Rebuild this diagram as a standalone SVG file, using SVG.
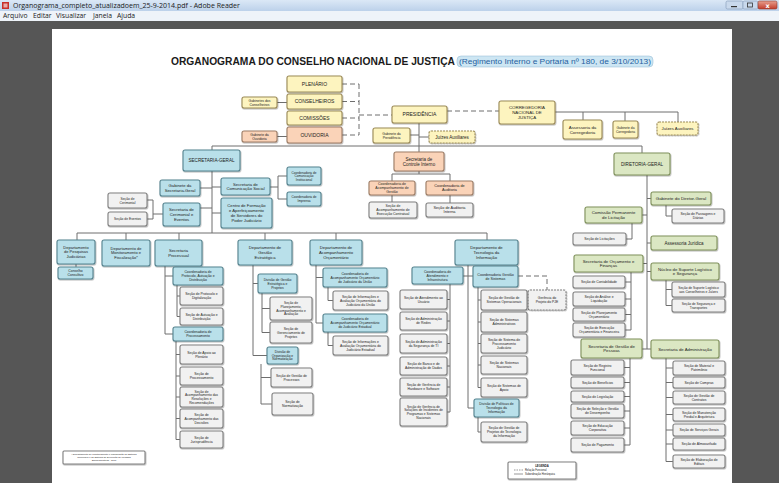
<svg xmlns="http://www.w3.org/2000/svg" width="779" height="483" viewBox="0 0 779 483">
<defs>
<linearGradient id="tb" x1="0" y1="0" x2="0" y2="1"><stop offset="0" stop-color="#dbe8f6"/><stop offset="1" stop-color="#bcd1ea"/></linearGradient>
<linearGradient id="cl" x1="0" y1="0" x2="0" y2="1"><stop offset="0" stop-color="#e8a08f"/><stop offset="1" stop-color="#c33d2b"/></linearGradient>
<filter id="sh" x="-10%" y="-10%" width="130%" height="140%"><feDropShadow dx="0.6" dy="0.8" stdDeviation="0.5" flood-color="#000" flood-opacity="0.35"/></filter>
</defs>
<style>
.n rect{stroke-width:1.1;filter:url(#sh)}
.y rect{fill:#fdf4bf;stroke:#9c8b58}
.p rect{fill:#fad3b8;stroke:#9d7d66}
.b rect{fill:#b9e0ea;stroke:#55838f}
.g rect{fill:#dbe7c3;stroke:#80925d}
.s rect{fill:#f1f1f1;stroke:#808080}
.dsh rect{stroke-dasharray:2 1}
.n text{font-family:"Liberation Sans",Arial,sans-serif;fill:#222;text-anchor:middle}
.conn path,.conn line{stroke:#6e6e6e;stroke-width:1;fill:none}
.conn .d{stroke-dasharray:5 3}
.ui{font-family:"Open Sans","DejaVu Sans",sans-serif;fill:#1a1a1a}
</style>
<!-- window chrome -->
<rect x="0" y="0" width="779" height="11" fill="url(#tb)"/>
<rect x="2" y="2" width="7" height="7" fill="#c8302a"/>
<rect x="3.5" y="3.5" width="4" height="4" fill="#fff" opacity="0.6"/>
<text class="ui" x="13" y="8.3" font-size="7">Organograma_completo_atualizadoem_25-9-2014.pdf - Adobe Reader</text>
<rect x="726" y="1" width="17" height="8" rx="1.5" fill="#c9d9ec" stroke="#7f97b5" stroke-width="0.6"/>
<rect x="731" y="6" width="6" height="1.2" fill="#333"/>
<rect x="743" y="1" width="15" height="8" rx="1.5" fill="#c9d9ec" stroke="#7f97b5" stroke-width="0.6"/>
<rect x="747.5" y="3" width="5" height="4" fill="none" stroke="#333" stroke-width="0.8"/>
<rect x="758" y="1" width="19" height="8" rx="1.5" fill="url(#cl)" stroke="#8a3a30" stroke-width="0.6"/>
<text x="767.5" y="7.8" font-family="DejaVu Sans,sans-serif" font-size="6.5" fill="#fff" text-anchor="middle" font-weight="bold">x</text>
<rect x="0" y="11" width="779" height="10" fill="#eef3f9"/>
<text class="ui" y="18.2" font-size="6.8"><tspan x="3">Arquivo</tspan><tspan x="33">Editar</tspan><tspan x="56">Visualizar</tspan><tspan x="93">Janela</tspan><tspan x="117">Ajuda</tspan></text>
<rect x="0" y="21" width="779" height="462" fill="#565656"/>
<rect x="52" y="29" width="680" height="454" fill="#ffffff"/>
<!-- title -->
<text x="171" y="64.5" font-family="Liberation Sans,Arial,sans-serif" font-size="10" font-weight="bold" fill="#1a1a1a" textLength="284" lengthAdjust="spacingAndGlyphs">ORGANOGRAMA DO CONSELHO NACIONAL DE JUSTIÇA</text>
<rect x="457" y="56" width="196" height="11" rx="4" fill="#cde6f3" stroke="#8fb7d0" stroke-width="0.5"/>
<text x="459" y="64.3" font-family="Liberation Sans,Arial,sans-serif" font-size="7.6" fill="#1f5fa0" textLength="192" lengthAdjust="spacingAndGlyphs">(Regimento Interno  e Portaria nº 180, de 3/10/2013)</text>

<!-- connectors -->
<g id="connectors" class="conn">
<path class="d" d="M342,84H359M342,101.5H359M342,118H359M342,135H359M359,84V135M359,115H392"/>
<path class="d" d="M447,111H499"/>
<path d="M277,102.5H287M277,136.5H287"/>
<path d="M555,112H678M583,112V120M625,112V121M678,112V122"/>
<path d="M419,123V152M410,135H419M419,137H429"/>
<path d="M212,146H642M212,146V150M642,146V153"/>
<path d="M419,171V174M392,174H450M392,174V181M450,174V181M392,195V202M450,195V203"/>
<path d="M212,171V233M200,188H212M212,187H221M212,213H221M200,208H212"/>
<path d="M270,187H278M278,176V199M278,176H287M278,199H287"/>
<path d="M163,214H153M153,200V219M147,200H153M147,219H153"/>
<path d="M77,233H487M77,233V240M126,233V240M179,233V240M265,233V240M336,233V240M487,233V240"/>
<path d="M76,264V267"/>
<path d="M165,266V334M165,276H173M165,334H173M177,285V316.5M177,296H180M177,316.5H180M176,341V439.5M176,354.5H180M176,376H180M176,397H180M176,418.5H180M176,439.5H180"/>
<path d="M253,265V355.5M253,283.5H258M253,355.5H267M262,293V332.5M262,308.5H270M262,332.5H270M261,364V404M261,377.5H271M261,404H272"/>
<path d="M316,265V323M316,277.5H323M316,323H323M328,287V300.5M328,300.5H333M328,332V345.5M328,345.5H333"/>
<path d="M468,265V408M463,276H473M468,408H474"/>
<path d="M450,284V412M447,299.5H450M447,321H450M447,343.5H450M447,366H450M447,387H450M447,412H450"/>
<path d="M478,287V387.5M478,300H481M478,322H481M478,343.5H481M478,365H481M478,387.5H481"/>
<path d="M478,417V432M478,432H481"/>
<path class="d" stroke-dasharray="3 2" d="M518,276H547V290"/>
<path d="M647,175V349M647,198.5H651M642,215H647M647,243H651M643,263.5H647M647,271.5H651M642,349H647M647,349H651"/>
<path d="M666,205V216M666,216H672M632,223V239M632,239H626"/>
<path d="M631,272V330M625,282H631M625,299H631M625,314.5H631M625,330H631"/>
<path d="M666,280V305.5M666,289.5H672M666,305.5H672"/>
<path d="M630,358V445M624,367.5H630M624,382.5H630M624,396.5H630M624,411H630M624,428H630M624,445H630"/>
<path d="M666,358V461.5M666,368H673M666,382.5H673M666,397.5H673M666,414.5H673M666,430H673M666,444H673M666,461.5H673"/>
</g>

<!-- top nodes -->
<g id="plenario" class="n y"><rect x="287" y="76" width="55" height="16" rx="2"/><text x="314.5" y="85.75" font-size="5">PLENÁRIO</text></g>
<g id="conselheiros" class="n y"><rect x="287" y="94" width="55" height="15" rx="2"/><text x="314.5" y="103.25" font-size="5">CONSELHEIROS</text></g>
<g id="comissoes" class="n y"><rect x="287" y="111" width="55" height="14" rx="2"/><text x="314.5" y="119.75" font-size="5">COMISSÕES</text></g>
<g id="ouvidoria" class="n p"><rect x="287" y="127" width="55" height="16" rx="2"/><text x="314.5" y="136.75" font-size="5">OUVIDORIA</text></g>
<g id="gab-conselheiros" class="n y"><rect x="242" y="97" width="35" height="11" rx="2"/><text x="259.5" y="101.8" font-size="3.4"><tspan x="259.5">Gabinetes dos</tspan><tspan x="259.5" dy="3.8">Conselheiros</tspan></text></g>
<g id="gab-ouvidoria" class="n p"><rect x="242" y="131" width="35" height="11" rx="2"/><text x="259.5" y="135.8" font-size="3.4"><tspan x="259.5">Gabinete da</tspan><tspan x="259.5" dy="3.8">Ouvidoria</tspan></text></g>
<g id="presidencia" class="n y"><rect x="392" y="106" width="55" height="17" rx="2"/><text x="419.5" y="116.25" font-size="5">PRESIDÊNCIA</text></g>
<g id="corregedoria" class="n y"><rect x="499" y="101" width="56" height="23" rx="2"/><text x="527" y="109.1" font-size="4.4"><tspan x="527">CORREGEDORIA</tspan><tspan x="527" dy="4.9">NACIONAL DE</tspan><tspan x="527" dy="4.9">JUSTIÇA</tspan></text></g>
<g id="assessoria-corregedoria" class="n y"><rect x="563" y="120" width="39" height="19" rx="2"/><text x="582.5" y="128.6" font-size="4.4"><tspan x="582.5">Assessoria da</tspan><tspan x="582.5" dy="4.9">Corregedoria</tspan></text></g>
<g id="gab-corregedoria" class="n y"><rect x="613" y="121" width="25" height="17" rx="2"/><text x="625.5" y="128.8" font-size="3.3"><tspan x="625.5">Gabinete da</tspan><tspan x="625.5" dy="3.7">Corregedoria</tspan></text></g>
<g id="juizes-corregedoria" class="n y dsh"><rect x="657" y="122" width="41" height="13" rx="2"/><text x="677.5" y="130" font-size="4.3">Juízes Auxiliares</text></g>
<g id="gab-presidencia" class="n y"><rect x="373" y="128" width="37" height="15" rx="2"/><text x="391.5" y="134.8" font-size="3.4"><tspan x="391.5">Gabinete da</tspan><tspan x="391.5" dy="3.8">Presidência</tspan></text></g>
<g id="juizes-presidencia" class="n y dsh"><rect x="429" y="131" width="46" height="12" rx="2"/><text x="452" y="138.6" font-size="4.5">Juízes Auxiliares</text></g>
<g id="controle-interno" class="n p"><rect x="394" y="152" width="50" height="19" rx="2"/><text x="419" y="160.6" font-size="4.5"><tspan x="419">Secretaria de</tspan><tspan x="419" dy="5">Controle Interno</tspan></text></g>
<g id="coord-acomp-gestao" class="n p"><rect x="369" y="181" width="46" height="14" rx="2"/><text x="392" y="185.3" font-size="3.5"><tspan x="392">Coordenadoria de</tspan><tspan x="392" dy="3.9">Acompanhamento de</tspan><tspan x="392" dy="3.9">Gestão</tspan></text></g>
<g id="coord-auditoria" class="n p"><rect x="426" y="181" width="47" height="14" rx="2"/><text x="449.5" y="187.2" font-size="3.8"><tspan x="449.5">Coordenadoria de</tspan><tspan x="449.5" dy="4.2">Auditoria</tspan></text></g>
<g id="sec-exec-contratual" class="n s"><rect x="369" y="202" width="48" height="16" rx="2"/><text x="393" y="207.3" font-size="3.5"><tspan x="393">Seção de</tspan><tspan x="393" dy="3.9">Acompanhamento de</tspan><tspan x="393" dy="3.9">Execução Contratual</tspan></text></g>
<g id="sec-auditoria-interna" class="n s"><rect x="426" y="203" width="47" height="14" rx="2"/><text x="449.5" y="209.2" font-size="3.8"><tspan x="449.5">Seção de Auditoria</tspan><tspan x="449.5" dy="4.2">Interna</tspan></text></g>

<!-- Secretaria-Geral -->
<g id="secretaria-geral" class="n b"><rect x="183" y="150" width="57" height="21" rx="2"/><text x="211.5" y="162.1" font-size="4.6">SECRETARIA-GERAL</text></g>
<g id="gab-sg" class="n b"><rect x="160" y="180" width="40" height="16" rx="2"/><text x="180" y="187.1" font-size="4.2"><tspan x="180">Gabinete da</tspan><tspan x="180" dy="4.7">Secretaria-Geral</tspan></text></g>
<g id="secom" class="n b"><rect x="221" y="178" width="49" height="17" rx="2"/><text x="245.5" y="185.6" font-size="4.2"><tspan x="245.5">Secretaria de</tspan><tspan x="245.5" dy="4.7">Comunicação Social</tspan></text></g>
<g id="coord-com-inst" class="n b"><rect x="287" y="167" width="34" height="18" rx="2"/><text x="304" y="173.6" font-size="3.1"><tspan x="304">Coordenadoria de</tspan><tspan x="304" dy="3.5">Comunicação</tspan><tspan x="304" dy="3.5">Institucional</tspan></text></g>
<g id="coord-imprensa" class="n b"><rect x="287" y="192" width="34" height="14" rx="2"/><text x="304" y="198.3" font-size="3.1"><tspan x="304">Coordenadoria de</tspan><tspan x="304" dy="3.5">Imprensa</tspan></text></g>
<g id="ceajud" class="n b"><rect x="221" y="198" width="51" height="30" rx="2"/><text x="246.5" y="207.4" font-size="4.2"><tspan x="246.5">Centro de Formação</tspan><tspan x="246.5" dy="4.7">e Aperfeiçoamento</tspan><tspan x="246.5" dy="4.7">de Servidores do</tspan><tspan x="246.5" dy="4.7">Poder Judiciário</tspan></text></g>
<g id="cerimonial" class="n b"><rect x="163" y="203" width="37" height="23" rx="2"/><text x="181.5" y="211.3" font-size="4.2"><tspan x="181.5">Secretaria de</tspan><tspan x="181.5" dy="4.7">Cerimonial e</tspan><tspan x="181.5" dy="4.7">Eventos</tspan></text></g>
<g id="sec-cerimonial" class="n s"><rect x="108" y="193" width="39" height="15" rx="2"/><text x="127.5" y="199.8" font-size="3.3"><tspan x="127.5">Seção de</tspan><tspan x="127.5" dy="3.7">Cerimonial</tspan></text></g>
<g id="sec-eventos" class="n s"><rect x="108" y="212" width="39" height="14" rx="2"/><text x="127.5" y="220.2" font-size="3.3">Seção de Eventos</text></g>

<!-- departments row -->
<g id="dpj" class="n b"><rect x="57" y="240" width="38" height="24" rx="2"/><text x="76" y="248.9" font-size="4"><tspan x="76">Departamento</tspan><tspan x="76" dy="4.5">de Pesquisas</tspan><tspan x="76" dy="4.5">Judiciárias</tspan></text></g>
<g id="conselho-consultivo" class="n b"><rect x="58" y="267" width="35" height="12" rx="2"/><text x="75.5" y="272.3" font-size="3.4"><tspan x="75.5">Conselho</tspan><tspan x="75.5" dy="3.8">Consultivo</tspan></text></g>
<g id="dmf" class="n b"><rect x="102" y="240" width="48" height="26" rx="2"/><text x="126" y="249.9" font-size="4"><tspan x="126">Departamento de</tspan><tspan x="126" dy="4.5">Monitoramento e</tspan><tspan x="126" dy="4.5">Fiscalização*</tspan></text></g>
<g id="secretaria-processual" class="n b"><rect x="155" y="240" width="47" height="26" rx="2"/><text x="178.5" y="252.1" font-size="4.2"><tspan x="178.5">Secretaria</tspan><tspan x="178.5" dy="4.7">Processual</tspan></text></g>
<g id="dge" class="n b"><rect x="238" y="240" width="54" height="25" rx="2"/><text x="265" y="249.3" font-size="4.2"><tspan x="265">Departamento de</tspan><tspan x="265" dy="4.7">Gestão</tspan><tspan x="265" dy="4.7">Estratégica</tspan></text></g>
<g id="dao" class="n b"><rect x="310" y="240" width="52" height="25" rx="2"/><text x="336" y="249.3" font-size="4.2"><tspan x="336">Departamento de</tspan><tspan x="336" dy="4.7">Acompanhamento</tspan><tspan x="336" dy="4.7">Orçamentário</tspan></text></g>
<g id="dti" class="n b"><rect x="455" y="240" width="63" height="25" rx="2"/><text x="486.5" y="249.3" font-size="4.2"><tspan x="486.5">Departamento de</tspan><tspan x="486.5" dy="4.7">Tecnologia da</tspan><tspan x="486.5" dy="4.7">Informação</tspan></text></g>

<!-- Secretaria Processual children -->
<g id="coord-protocolo" class="n b"><rect x="173" y="267" width="50" height="18" rx="2"/><text x="198" y="273.4" font-size="3.4"><tspan x="198">Coordenadoria de</tspan><tspan x="198" dy="3.8">Protocolo, Autuação e</tspan><tspan x="198" dy="3.8">Distribuição</tspan></text></g>
<g id="sec-protocolo" class="n s"><rect x="180" y="287" width="43" height="18" rx="2"/><text x="201.5" y="295.3" font-size="3.4"><tspan x="201.5">Seção de Protocolo e</tspan><tspan x="201.5" dy="3.8">Digitalização</tspan></text></g>
<g id="sec-autuacao" class="n s"><rect x="180" y="308" width="43" height="17" rx="2"/><text x="201.5" y="315.8" font-size="3.4"><tspan x="201.5">Seção de Autuação e</tspan><tspan x="201.5" dy="3.8">Distribuição</tspan></text></g>
<g id="coord-processamento" class="n b"><rect x="173" y="327" width="50" height="14" rx="2"/><text x="198" y="333.3" font-size="3.4"><tspan x="198">Coordenadoria de</tspan><tspan x="198" dy="3.8">Processamento</tspan></text></g>
<g id="sec-apoio-plenario" class="n s"><rect x="180" y="345" width="43" height="19" rx="2"/><text x="201.5" y="353.8" font-size="3.4"><tspan x="201.5">Seção de Apoio ao</tspan><tspan x="201.5" dy="3.8">Plenário</tspan></text></g>
<g id="sec-processamento" class="n s"><rect x="180" y="367" width="43" height="18" rx="2"/><text x="201.5" y="375.3" font-size="3.4"><tspan x="201.5">Seção de</tspan><tspan x="201.5" dy="3.8">Processamento</tspan></text></g>
<g id="sec-acomp-resolucoes" class="n s"><rect x="180" y="387" width="43" height="20" rx="2"/><text x="201.5" y="392.6" font-size="3.3"><tspan x="201.5">Seção de</tspan><tspan x="201.5" dy="3.7">Acompanhamento das</tspan><tspan x="201.5" dy="3.7">Resoluções e</tspan><tspan x="201.5" dy="3.7">Recomendações</tspan></text></g>
<g id="sec-acomp-decisoes" class="n s"><rect x="180" y="409" width="43" height="19" rx="2"/><text x="201.5" y="415.9" font-size="3.4"><tspan x="201.5">Seção de</tspan><tspan x="201.5" dy="3.8">Acompanhamento das</tspan><tspan x="201.5" dy="3.8">Decisões</tspan></text></g>
<g id="sec-jurisprudencia" class="n s"><rect x="180" y="431" width="43" height="17" rx="2"/><text x="201.5" y="438.8" font-size="3.4"><tspan x="201.5">Seção de</tspan><tspan x="201.5" dy="3.8">Jurisprudência</tspan></text></g>

<!-- Gestão Estratégica children -->
<g id="div-gestao-estrategica" class="n b"><rect x="258" y="274" width="39" height="19" rx="2"/><text x="277.5" y="280.9" font-size="3.4"><tspan x="277.5">Divisão de Gestão</tspan><tspan x="277.5" dy="3.8">Estratégica e</tspan><tspan x="277.5" dy="3.8">Projetos</tspan></text></g>
<g id="sec-planejamento" class="n s"><rect x="270" y="297" width="42" height="23" rx="2"/><text x="291" y="304.1" font-size="3.3"><tspan x="291">Seção de</tspan><tspan x="291" dy="3.7">Planejamento,</tspan><tspan x="291" dy="3.7">Acompanhamento e</tspan><tspan x="291" dy="3.7">Avaliação</tspan></text></g>
<g id="sec-ger-projetos" class="n s"><rect x="270" y="322" width="42" height="21" rx="2"/><text x="291" y="329.9" font-size="3.4"><tspan x="291">Seção de</tspan><tspan x="291" dy="3.8">Gerenciamento de</tspan><tspan x="291" dy="3.8">Projetos</tspan></text></g>
<g id="div-organizacao" class="n b"><rect x="267" y="347" width="31" height="17" rx="2"/><text x="282.5" y="353" font-size="3.3"><tspan x="282.5">Divisão de</tspan><tspan x="282.5" dy="3.7">Organização e</tspan><tspan x="282.5" dy="3.7">Normatização</tspan></text></g>
<g id="sec-gestao-processos" class="n s"><rect x="271" y="368" width="41" height="19" rx="2"/><text x="291.5" y="376.8" font-size="3.4"><tspan x="291.5">Seção de Gestão de</tspan><tspan x="291.5" dy="3.8">Processos</tspan></text></g>
<g id="sec-normatizacao" class="n s"><rect x="272" y="393" width="41" height="22" rx="2"/><text x="292.5" y="403.3" font-size="3.4"><tspan x="292.5">Seção de</tspan><tspan x="292.5" dy="3.8">Normatização</tspan></text></g>

<!-- Acompanhamento Orçamentário children -->
<g id="coord-uniao" class="n b"><rect x="323" y="268" width="64" height="19" rx="2"/><text x="355" y="274.9" font-size="3.4"><tspan x="355">Coordenadoria de</tspan><tspan x="355" dy="3.8">Acompanhamento Orçamentário</tspan><tspan x="355" dy="3.8">do Judiciário da União</tspan></text></g>
<g id="sec-uniao" class="n s"><rect x="333" y="291" width="55" height="19" rx="2"/><text x="360.5" y="297.9" font-size="3.4"><tspan x="360.5">Seção de Informações e</tspan><tspan x="360.5" dy="3.8">Avaliação Orçamentária do</tspan><tspan x="360.5" dy="3.8">Judiciário da União</tspan></text></g>
<g id="coord-estadual" class="n b"><rect x="323" y="314" width="64" height="18" rx="2"/><text x="355" y="320.4" font-size="3.4"><tspan x="355">Coordenadoria de</tspan><tspan x="355" dy="3.8">Acompanhamento Orçamentário</tspan><tspan x="355" dy="3.8">do Judiciário Estadual</tspan></text></g>
<g id="sec-estadual" class="n s"><rect x="333" y="336" width="55" height="19" rx="2"/><text x="360.5" y="342.9" font-size="3.4"><tspan x="360.5">Seção de Informações e</tspan><tspan x="360.5" dy="3.8">Avaliação Orçamentária do</tspan><tspan x="360.5" dy="3.8">Judiciário Estadual</tspan></text></g>

<!-- Tecnologia children -->
<g id="coord-atendimento" class="n b"><rect x="412" y="267" width="51" height="17" rx="2"/><text x="437.5" y="272.9" font-size="3.4"><tspan x="437.5">Coordenadoria de</tspan><tspan x="437.5" dy="3.8">Atendimento e</tspan><tspan x="437.5" dy="3.8">Infraestrutura</tspan></text></g>
<g id="coord-sistemas" class="n b"><rect x="473" y="266" width="45" height="21" rx="2"/><text x="495.5" y="275.8" font-size="3.6"><tspan x="495.5">Coordenadoria Gestão</tspan><tspan x="495.5" dy="4">de Sistemas</tspan></text></g>
<g id="gerencia-pje" class="n s dsh"><rect x="528" y="290" width="38" height="20" rx="2"/><text x="547" y="299.3" font-size="3.4"><tspan x="547">Gerência do</tspan><tspan x="547" dy="3.8">Projeto do PJE</tspan></text></g>
<g id="sec-atendimento-usuario" class="n s"><rect x="400" y="290" width="47" height="19" rx="2"/><text x="423.5" y="298.8" font-size="3.4"><tspan x="423.5">Seção de Atendimento ao</tspan><tspan x="423.5" dy="3.8">Usuário</tspan></text></g>
<g id="sec-redes" class="n s"><rect x="400" y="312" width="47" height="18" rx="2"/><text x="423.5" y="320.3" font-size="3.4"><tspan x="423.5">Seção de Administração</tspan><tspan x="423.5" dy="3.8">de Redes</tspan></text></g>
<g id="sec-seguranca-ti" class="n s"><rect x="400" y="334" width="47" height="19" rx="2"/><text x="423.5" y="342.8" font-size="3.4"><tspan x="423.5">Seção de Administração</tspan><tspan x="423.5" dy="3.8">da Segurança de TI</tspan></text></g>
<g id="sec-banco-dados" class="n s"><rect x="400" y="357" width="47" height="18" rx="2"/><text x="423.5" y="365.3" font-size="3.4"><tspan x="423.5">Seção de Banco e de</tspan><tspan x="423.5" dy="3.8">Administração de Dados</tspan></text></g>
<g id="sec-hardware" class="n s"><rect x="400" y="378" width="47" height="18" rx="2"/><text x="423.5" y="386.3" font-size="3.4"><tspan x="423.5">Seção de Gerência de</tspan><tspan x="423.5" dy="3.8">Hardware e Software</tspan></text></g>
<g id="sec-incidentes" class="n s"><rect x="400" y="398" width="47" height="28" rx="2"/><text x="423.5" y="407.6" font-size="3.3"><tspan x="423.5">Seção de Gerência de</tspan><tspan x="423.5" dy="3.7">Soluções de Incidentes de</tspan><tspan x="423.5" dy="3.7">Programas e Sistemas</tspan><tspan x="423.5" dy="3.7">Nacionais</tspan></text></g>
<g id="sec-sist-operacionais" class="n s"><rect x="481" y="290" width="46" height="20" rx="2"/><text x="504" y="299.3" font-size="3.4"><tspan x="504">Seção de Gestão de</tspan><tspan x="504" dy="3.8">Sistemas Operacionais</tspan></text></g>
<g id="sec-sist-administrativos" class="n s"><rect x="481" y="312" width="46" height="20" rx="2"/><text x="504" y="321.3" font-size="3.4"><tspan x="504">Seção de Sistemas</tspan><tspan x="504" dy="3.8">Administrativos</tspan></text></g>
<g id="sec-proc-judiciario" class="n s"><rect x="481" y="334" width="46" height="19" rx="2"/><text x="504" y="340.9" font-size="3.4"><tspan x="504">Seção de Sistema de</tspan><tspan x="504" dy="3.8">Processamento</tspan><tspan x="504" dy="3.8">Judiciário</tspan></text></g>
<g id="sec-sist-nacionais" class="n s"><rect x="481" y="356" width="46" height="18" rx="2"/><text x="504" y="364.3" font-size="3.4"><tspan x="504">Seção de Sistemas</tspan><tspan x="504" dy="3.8">Nacionais</tspan></text></g>
<g id="sec-sist-apoio" class="n s"><rect x="481" y="378" width="46" height="19" rx="2"/><text x="504" y="386.8" font-size="3.4"><tspan x="504">Seção de Sistemas de</tspan><tspan x="504" dy="3.8">Apoio</tspan></text></g>
<g id="div-politicas-ti" class="n b"><rect x="474" y="399" width="45" height="18" rx="2"/><text x="496.5" y="405.4" font-size="3.4"><tspan x="496.5">Divisão de Políticas de</tspan><tspan x="496.5" dy="3.8">Tecnologia da</tspan><tspan x="496.5" dy="3.8">Informação</tspan></text></g>
<g id="sec-projetos-ti" class="n s"><rect x="481" y="422" width="46" height="20" rx="2"/><text x="504" y="429.4" font-size="3.4"><tspan x="504">Seção de Gestão de</tspan><tspan x="504" dy="3.8">Projetos de Tecnologia</tspan><tspan x="504" dy="3.8">da Informação</tspan></text></g>

<!-- Diretoria-Geral -->
<g id="diretoria-geral" class="n g"><rect x="614" y="153" width="56" height="22" rx="2"/><text x="642" y="165.6" font-size="4.6">DIRETORIA-GERAL</text></g>
<g id="gab-dg" class="n g"><rect x="651" y="192" width="60" height="13" rx="2"/><text x="681" y="200" font-size="4.4">Gabinete do Diretor-Geral</text></g>
<g id="sec-passagens" class="n s"><rect x="672" y="209" width="52" height="14" rx="2"/><text x="698" y="215.3" font-size="3.4"><tspan x="698">Seção de Passagens e</tspan><tspan x="698" dy="3.8">Diárias</tspan></text></g>
<g id="cpl" class="n g"><rect x="585" y="207" width="57" height="16" rx="2"/><text x="613.5" y="214.1" font-size="4.3"><tspan x="613.5">Comissão Permanente</tspan><tspan x="613.5" dy="4.8">de Licitação</tspan></text></g>
<g id="sec-licitacoes" class="n s"><rect x="573" y="233" width="53" height="12" rx="2"/><text x="599.5" y="240.2" font-size="3.4">Seção de Licitações</text></g>
<g id="assessoria-juridica" class="n g"><rect x="651" y="236" width="66" height="14" rx="2"/><text x="684" y="244.6" font-size="4.5">Assessoria Jurídica</text></g>
<g id="sof" class="n g"><rect x="574" y="255" width="69" height="17" rx="2"/><text x="608.5" y="262.6" font-size="4.3"><tspan x="608.5">Secretaria de Orçamento e</tspan><tspan x="608.5" dy="4.8">Finanças</tspan></text></g>
<g id="sec-contabilidade" class="n s"><rect x="573" y="276" width="52" height="12" rx="2"/><text x="599" y="283.2" font-size="3.4">Seção de Contabilidade</text></g>
<g id="sec-analise" class="n s"><rect x="573" y="292" width="52" height="14" rx="2"/><text x="599" y="298.3" font-size="3.4"><tspan x="599">Seção de Análise e</tspan><tspan x="599" dy="3.8">Liquidação</tspan></text></g>
<g id="sec-planej-orc" class="n s"><rect x="573" y="308" width="52" height="13" rx="2"/><text x="599" y="313.8" font-size="3.4"><tspan x="599">Seção de Planejamento</tspan><tspan x="599" dy="3.8">Orçamentário</tspan></text></g>
<g id="sec-execucao" class="n s"><rect x="573" y="323" width="52" height="14" rx="2"/><text x="599" y="329.3" font-size="3.4"><tspan x="599">Seção de Execução</tspan><tspan x="599" dy="3.8">Orçamentária e Financeira</tspan></text></g>
<g id="nucleo" class="n g"><rect x="651" y="263" width="68" height="17" rx="2"/><text x="685" y="270.6" font-size="4.3"><tspan x="685">Núcleo de Suporte Logístico</tspan><tspan x="685" dy="4.8">e Segurança</tspan></text></g>
<g id="sec-suporte" class="n s"><rect x="672" y="282" width="53" height="15" rx="2"/><text x="698.5" y="288.8" font-size="3.3"><tspan x="698.5">Seção de Suporte Logístico</tspan><tspan x="698.5" dy="3.7">aos Conselheiros e Juízes</tspan></text></g>
<g id="sec-seg-transportes" class="n s"><rect x="672" y="299" width="53" height="13" rx="2"/><text x="698.5" y="304.8" font-size="3.3"><tspan x="698.5">Seção de Segurança e</tspan><tspan x="698.5" dy="3.7">Transportes</tspan></text></g>
<g id="sgp" class="n g"><rect x="581" y="339" width="61" height="19" rx="2"/><text x="611.5" y="347.6" font-size="4.3"><tspan x="611.5">Secretaria de Gestão de</tspan><tspan x="611.5" dy="4.8">Pessoas</tspan></text></g>
<g id="sad" class="n g"><rect x="651" y="340" width="68" height="18" rx="2"/><text x="685" y="350.5" font-size="4.3">Secretaria de Administração</text></g>
<g id="sec-registro" class="n s"><rect x="571" y="360" width="53" height="15" rx="2"/><text x="597.5" y="366.8" font-size="3.4"><tspan x="597.5">Seção de Registro</tspan><tspan x="597.5" dy="3.8">Funcional</tspan></text></g>
<g id="sec-beneficios" class="n s"><rect x="571" y="377" width="53" height="11" rx="2"/><text x="597.5" y="383.7" font-size="3.4">Seção de Benefícios</text></g>
<g id="sec-legislacao" class="n s"><rect x="571" y="391" width="53" height="11" rx="2"/><text x="597.5" y="397.7" font-size="3.4">Seção de Legislação</text></g>
<g id="sec-selecao" class="n s"><rect x="571" y="404" width="53" height="14" rx="2"/><text x="597.5" y="410.3" font-size="3.4"><tspan x="597.5">Seção de Seleção e Gestão</tspan><tspan x="597.5" dy="3.8">de Desempenho</tspan></text></g>
<g id="sec-educacao" class="n s"><rect x="571" y="421" width="53" height="14" rx="2"/><text x="597.5" y="427.3" font-size="3.4"><tspan x="597.5">Seção de Educação</tspan><tspan x="597.5" dy="3.8">Corporativa</tspan></text></g>
<g id="sec-pagamento" class="n s"><rect x="571" y="438" width="53" height="14" rx="2"/><text x="597.5" y="446.2" font-size="3.4">Seção de Pagamento</text></g>
<g id="sec-material" class="n s"><rect x="673" y="361" width="52" height="14" rx="2"/><text x="699" y="367.3" font-size="3.4"><tspan x="699">Seção de Material e</tspan><tspan x="699" dy="3.8">Patrimônio</tspan></text></g>
<g id="sec-compras" class="n s"><rect x="673" y="377" width="52" height="11" rx="2"/><text x="699" y="383.7" font-size="3.4">Seção de Compras</text></g>
<g id="sec-contratos" class="n s"><rect x="673" y="391" width="52" height="13" rx="2"/><text x="699" y="396.8" font-size="3.4"><tspan x="699">Seção de Gestão de</tspan><tspan x="699" dy="3.8">Contratos</tspan></text></g>
<g id="sec-manutencao" class="n s"><rect x="673" y="408" width="52" height="13" rx="2"/><text x="699" y="413.8" font-size="3.4"><tspan x="699">Seção de Manutenção</tspan><tspan x="699" dy="3.8">Predial e Arquitetura</tspan></text></g>
<g id="sec-servicos" class="n s"><rect x="673" y="424" width="52" height="12" rx="2"/><text x="699" y="431.2" font-size="3.4">Seção de Serviços Gerais</text></g>
<g id="sec-almoxarifado" class="n s"><rect x="673" y="438" width="52" height="12" rx="2"/><text x="699" y="445.2" font-size="3.4">Seção de Almoxarifado</text></g>
<g id="sec-editais" class="n s"><rect x="673" y="455" width="52" height="13" rx="2"/><text x="699" y="460.8" font-size="3.4"><tspan x="699">Seção de Elaboração de</tspan><tspan x="699" dy="3.8">Editais</tspan></text></g>

<!-- footnote and legend -->
<g id="nota" class="n s"><rect x="63" y="451" width="82" height="13" rx="1" style="fill:#fff"/><text x="104" y="455.3" font-size="2.4"><tspan x="104">* Departamento de Monitoramento e Fiscalização do Sistema</tspan><tspan x="104" dy="2.9">Carcerário e do Sistema de Execução de Medidas</tspan><tspan x="104" dy="2.9">Socioeducativas - DMF</tspan></text></g>
<g id="legenda" class="n s"><rect x="508" y="462" width="68" height="17" rx="1" style="fill:#fff"/><text x="542" y="466.5" font-size="2.8" font-weight="bold">LEGENDA</text><line x1="514" y1="470" x2="523" y2="470" stroke="#555" stroke-width="0.6" stroke-dasharray="1.5 1"/><text x="525" y="471" font-size="2.6" style="text-anchor:start">Relação Funcional</text><line x1="514" y1="474" x2="523" y2="474" stroke="#555" stroke-width="0.6"/><text x="525" y="475" font-size="2.6" style="text-anchor:start">Subordinação Hierárquica</text></g>
</svg>
